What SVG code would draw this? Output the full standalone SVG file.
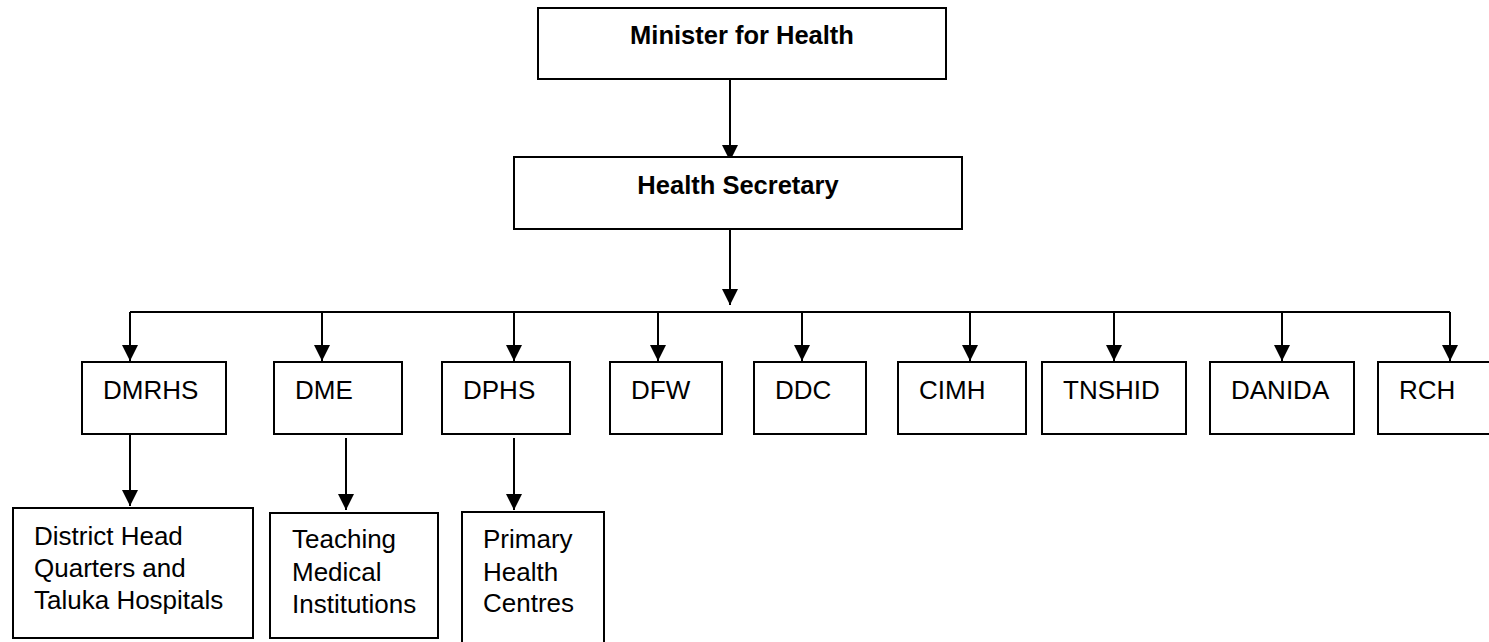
<svg xmlns="http://www.w3.org/2000/svg" width="1489" height="642" viewBox="0 0 1489 642">
<style>
.box{fill:#fff;stroke:#000;stroke-width:2}
.t{font-family:"Liberation Sans",Arial,sans-serif;font-size:26px;fill:#000}
.b{font-family:"Liberation Sans",Arial,sans-serif;font-size:25.5px;font-weight:bold;fill:#000;text-anchor:middle}
.c{fill:none;stroke:#000;stroke-width:2}
</style>
<defs>
<marker id="ah" markerUnits="userSpaceOnUse" markerWidth="16" markerHeight="16" refX="15" refY="7.5" orient="auto" viewBox="0 0 15 15">
<path d="M0,0 L15,7.5 L0,15 z" fill="#000"/>
</marker>
</defs>
<rect width="1489" height="642" fill="#fff"/>
<g id="connectors">
<path class="c" d="M730,79 V161" marker-end="url(#ah)"/>
<path class="c" d="M730,229 V305" marker-end="url(#ah)"/>
<path class="c" d="M130,312 H1450"/>
<path class="c" d="M130,312 V361" marker-end="url(#ah)"/>
<path class="c" d="M322,312 V361" marker-end="url(#ah)"/>
<path class="c" d="M514,312 V361" marker-end="url(#ah)"/>
<path class="c" d="M658,312 V361" marker-end="url(#ah)"/>
<path class="c" d="M802,312 V361" marker-end="url(#ah)"/>
<path class="c" d="M970,312 V361" marker-end="url(#ah)"/>
<path class="c" d="M1114,312 V361" marker-end="url(#ah)"/>
<path class="c" d="M1282,312 V361" marker-end="url(#ah)"/>
<path class="c" d="M1450,312 V361" marker-end="url(#ah)"/>
<path class="c" d="M130,434 V506" marker-end="url(#ah)"/>
<path class="c" d="M346,438 V510" marker-end="url(#ah)"/>
<path class="c" d="M514,438 V510" marker-end="url(#ah)"/>
</g>
<g id="minister"><rect class="box" x="538" y="8" width="408" height="71"/><text class="b" x="742" y="44">Minister for Health</text></g>
<g id="secretary"><rect class="box" x="514" y="157" width="448" height="72"/><text class="b" x="738" y="194">Health Secretary</text></g>
<g id="dmrhs"><rect class="box" x="82" y="362" width="144" height="72"/><text class="t" x="103" y="399">DMRHS</text></g>
<g id="dme"><rect class="box" x="274" y="362" width="128" height="72"/><text class="t" x="295" y="399">DME</text></g>
<g id="dphs"><rect class="box" x="442" y="362" width="128" height="72"/><text class="t" x="463" y="399">DPHS</text></g>
<g id="dfw"><rect class="box" x="610" y="362" width="112" height="72"/><text class="t" x="631" y="399">DFW</text></g>
<g id="ddc"><rect class="box" x="754" y="362" width="112" height="72"/><text class="t" x="775" y="399">DDC</text></g>
<g id="cimh"><rect class="box" x="898" y="362" width="128" height="72"/><text class="t" x="919" y="399">CIMH</text></g>
<g id="tnshid"><rect class="box" x="1042" y="362" width="144" height="72"/><text class="t" x="1063" y="399">TNSHID</text></g>
<g id="danida"><rect class="box" x="1210" y="362" width="144" height="72"/><text class="t" x="1231" y="399">DANIDA</text></g>
<g id="rch"><rect class="box" x="1378" y="362" width="120" height="72"/><text class="t" x="1399" y="399">RCH</text></g>
<g id="district"><rect class="box" x="13" y="508" width="240" height="130"/><text class="t" x="34" y="545">District Head</text><text class="t" x="34" y="577">Quarters and</text><text class="t" x="34" y="609">Taluka Hospitals</text></g>
<g id="teaching"><rect class="box" x="270" y="513" width="168" height="125"/><text class="t" x="292" y="548">Teaching</text><text class="t" x="292" y="581">Medical</text><text class="t" x="292" y="613">Institutions</text></g>
<g id="primary"><rect class="box" x="462" y="512" width="142" height="140"/><text class="t" x="483" y="548">Primary</text><text class="t" x="483" y="581">Health</text><text class="t" x="483" y="612">Centres</text></g>
</svg>
